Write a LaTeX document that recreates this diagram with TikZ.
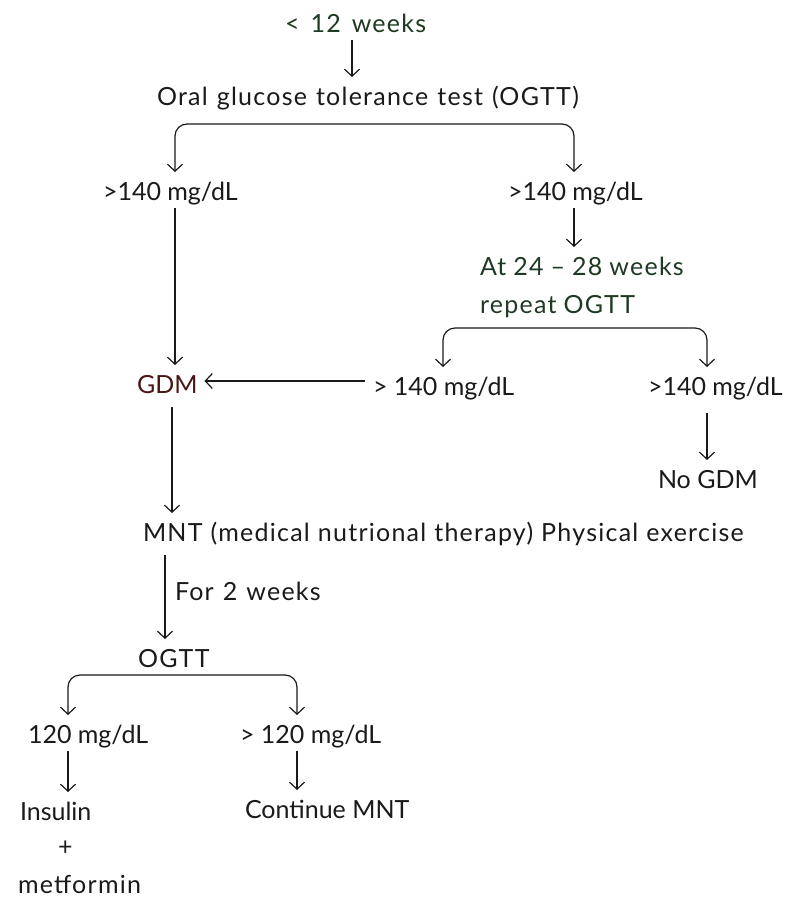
\documentclass[tikz,border=0pt]{standalone}
\usepackage{fontspec}
\setmainfont{Lato}
\usetikzlibrary{arrows.meta,calc}
\definecolor{ink}{HTML}{1A1A1A}
\definecolor{darkgreen}{HTML}{1F3A22}
\definecolor{gdmred}{HTML}{4A1616}
\tikzset{
  lbl/.style={anchor=base west, inner sep=0pt, outer sep=0pt, text height=18pt, text depth=6pt, text=ink, font=\fontsize{25}{30}\selectfont},
  arr/.style={draw=ink, line width=1.2pt, -{Straight Barb[length=7pt,width=15pt,line width=1.2pt]}},
  down/.style={arr, shorten <=2pt, shorten >=10pt},
  brk/.style={arr, rounded corners=12pt, shorten >=10pt}
}
\newcommand{\wsp}[1]{\addfontfeature{LetterSpace=5}\spaceskip=#1\relax}
\begin{document}
\begin{tikzpicture}[x=1pt,y=-1pt]
\useasboundingbox (0,0) rectangle (800,910);
\fill[white] (0,0) rectangle (800,910);
% nodes
\node[lbl, text=darkgreen] (w12) at (285,32) {\wsp{11pt}< 12 weeks};
\node[lbl] (ogtt) at (157,105) {\wsp{9pt}Oral glucose tolerance test (OGTT)};
\node[lbl] (l1) at (103,200) {>140 mg/dL};
\node[lbl] (r1) at (508,200) {>140 mg/dL};
\node[lbl, text=darkgreen] (at24) at (480,275) {\wsp{7pt}At 24 – 28 weeks};
\node[lbl, text=darkgreen] (rep) at (480,313) {\wsp{7pt}repeat OGTT};
\node[lbl, text=gdmred] (gdm) at (137,393) {GDM};
\node[lbl] (g140) at (373,395) {> 140 mg/dL};
\node[lbl] (n140) at (648,395) {>140 mg/dL};
\node[lbl] (nogdm) at (658,488) {No GDM};
\node[lbl] (mnt) at (143,541) {\wsp{8pt}MNT (medical nutrional therapy) Physical exercise};
\node[lbl] (two) at (175,600) {\wsp{9pt}For 2 weeks};
\node[lbl] (ogtt2) at (138,667) {\wsp{8pt}OGTT};
\node[lbl] (a120) at (28,743) {120 mg/dL};
\node[lbl] (b120) at (240,743) {> 120 mg/dL};
\node[lbl] (ins) at (20,820) {Insulin};
\node[lbl] (plus) at (58,855) {+};
\node[lbl] (met) at (18,893) {\wsp{8pt}metformin};
\node[lbl] (cont) at (245,818) {Continue MNT};
% x positions
\coordinate (xa) at (352,0);
\coordinate (xl) at (175,0);
\coordinate (xr) at (574,0);
\coordinate (xrl) at (443,0);
\coordinate (xrr) at (707,0);
\coordinate (xg) at (172,0);
\coordinate (xm) at (165,0);
\coordinate (xbl) at (68,0);
\coordinate (xbr) at (297,0);
\coordinate (b1) at (375,124);
\coordinate (b2) at (575,328);
\coordinate (b3) at (180,675);
\coordinate (hy) at (0,381);
% connectors
\draw[down] (xa |- w12.south) -- (xa |- ogtt.north);
\draw[brk] (b1) -| (xl |- l1.north);
\draw[brk] (b1) -| (xr |- r1.north);
\draw[down] (xr |- r1.south) -- (xr |- at24.north);
\draw[down] (xl |- l1.south) -- (xl |- gdm.north);
\draw[brk] (b2) -| (xrl |- g140.north);
\draw[brk] (b2) -| (xrr |- n140.north);
\draw[arr, shorten <=8pt, shorten >=7pt] (g140.west |- hy) -- (gdm.east |- hy);
\draw[down, shorten <=12pt] (xrr |- n140.south) -- (xrr |- nogdm.north);
\draw[down, shorten <=8pt] (xg |- gdm.south) -- (xg |- mnt.north);
\draw[down, shorten <=8pt] (xm |- mnt.south) -- (xm |- ogtt2.north);
\draw[brk] (b3) -| (xbl |- a120.north);
\draw[brk] (b3) -| (xbr |- b120.north);
\draw[down] (xbl |- a120.south) -- (xbl |- ins.north);
\draw[down] (xbr |- b120.south) -- (xbr |- cont.north);
\end{tikzpicture}
\end{document}
